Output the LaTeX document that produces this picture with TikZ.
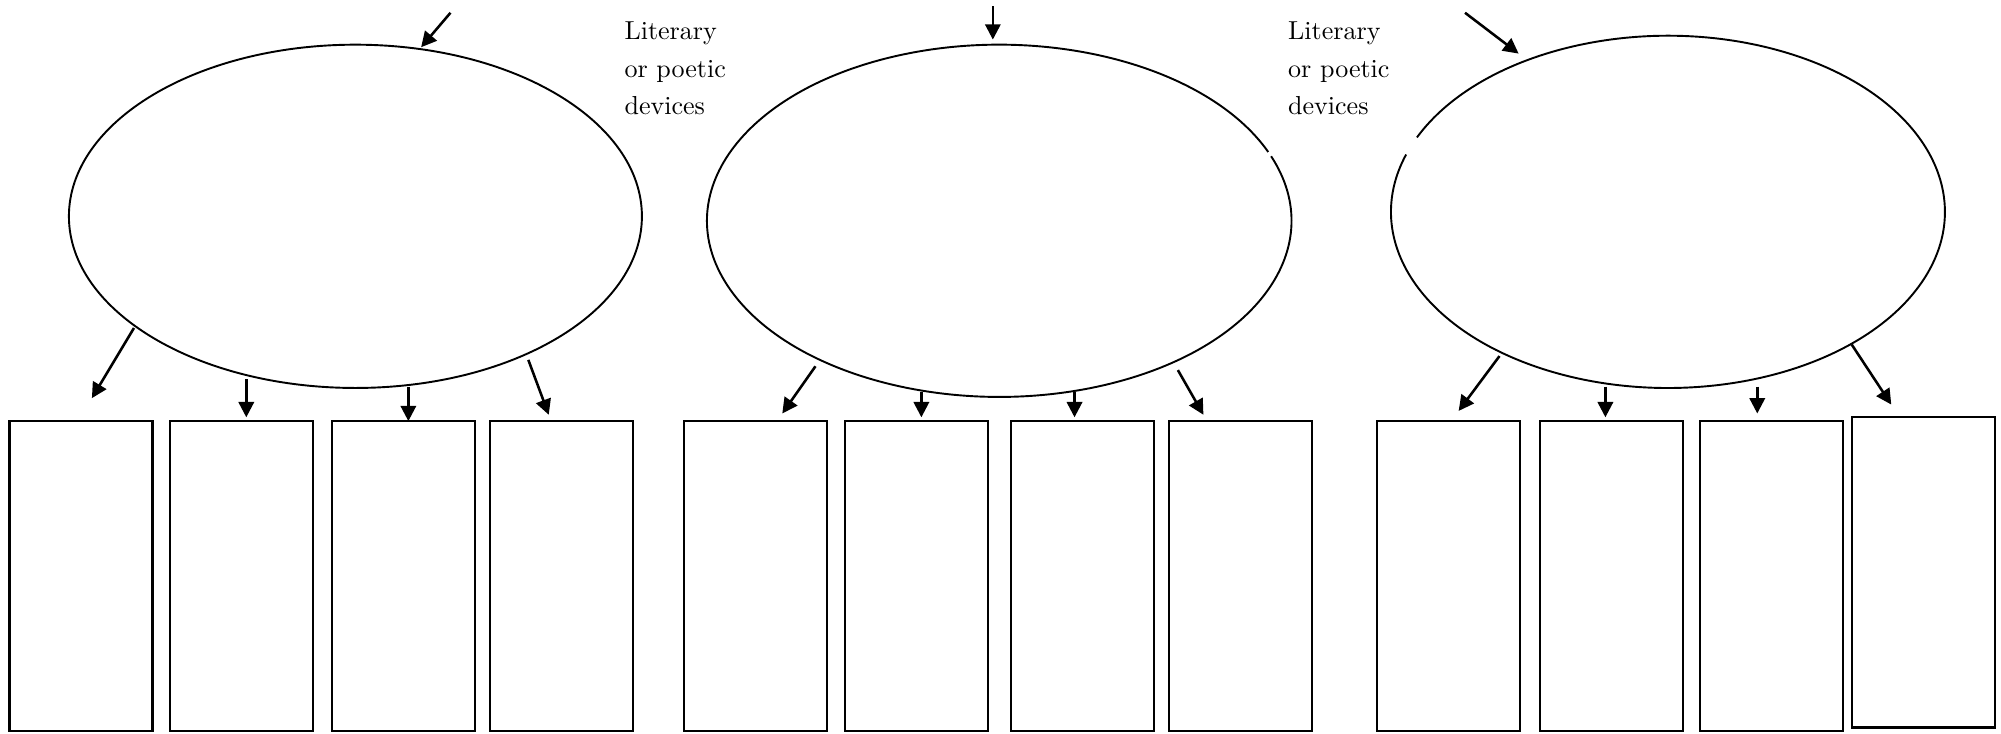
\documentclass[tikz,border=0pt]{standalone}
\usetikzlibrary{arrows.meta,shapes.geometric}
\tikzset{
  box/.style={draw, line width=0.85pt, minimum width=56pt, minimum height=121.5pt, inner sep=0pt},
  oval/.style={ellipse, line width=0.75pt, inner sep=0pt},
  conn/.style={line width=1pt, -{Triangle[length=6pt,width=6pt]}},
  lbl/.style={align=left, inner sep=0pt, anchor=north west, font=\fontsize{10.2}{14.5}\selectfont}
}
\begin{document}
\begin{tikzpicture}[x=0.5pt,y=-0.5pt]
\useasboundingbox (0,0) rectangle (1568,574.4);
% ellipses
\node[oval, draw, minimum width=224.5pt, minimum height=134.5pt] (e1) at (278.5,169.5) {};
\node[oval, minimum width=229pt, minimum height=138pt] (e2) at (783,173) {};
\node[oval, minimum width=217pt, minimum height=138pt] (e3) at (1307,166) {};
\draw[line width=0.75pt] (e2.center) ++(-21.5:229 and 138) arc[start angle=-21.5, end angle=337, x radius=229, y radius=138];
\draw[line width=0.75pt] (e3.center) ++(205:217 and 138) arc[start angle=205, end angle=559, x radius=217, y radius=138];
% labels
\node[lbl] (t1) at (489,17) {Literary\\or poetic\\devices};
\node[lbl] (t2) at (1009,17) {Literary\\or poetic\\devices};
% boxes
\node[box] (b11) at (63.5,451.5) {};
\node[box] (b12) at (189,451.5) {};
\node[box] (b13) at (316,451.5) {};
\node[box] (b14) at (440,451.5) {};
\node[box] (b21) at (592,451.5) {};
\node[box] (b22) at (718,451.5) {};
\node[box] (b23) at (848,451.5) {};
\node[box] (b24) at (972,451.5) {};
\node[box] (b31) at (1135,451.5) {};
\node[box] (b32) at (1263,451.5) {};
\node[box] (b33) at (1388,451.5) {};
\node[box] (b34) at (1507,448.5) {};
% arrow end points
\coordinate (p1s) at (353,10);   \coordinate (p1e) at (330,37);
\coordinate (a11s) at (105,257); \coordinate (a11e) at (72,312);
\coordinate (a12s) at (193,297); \coordinate (a12e) at (193,327);
\coordinate (a13s) at (320,303); \coordinate (a13e) at (320,330);
\coordinate (a14s) at (414,282); \coordinate (a14e) at (430,325);
\coordinate (p2s) at (778,5);    \coordinate (p2e) at (778,31);
\coordinate (a21s) at (639,287); \coordinate (a21e) at (613,324);
\coordinate (a22s) at (722,307); \coordinate (a22e) at (722,327);
\coordinate (a23s) at (842,307); \coordinate (a23e) at (842,327);
\coordinate (a24s) at (923,290); \coordinate (a24e) at (943,325);
\coordinate (p3s) at (1148,10);  \coordinate (p3e) at (1190,42);
\coordinate (a31s) at (1175,279); \coordinate (a31e) at (1143,322);
\coordinate (a32s) at (1258,303); \coordinate (a32e) at (1258,327);
\coordinate (a33s) at (1377,303); \coordinate (a33e) at (1377,324);
\coordinate (a34s) at (1451,270); \coordinate (a34e) at (1482,317);
\foreach \a in {p1,a11,a12,a13,a14,p2,a21,a22,a23,a24,p3,a31,a32,a33,a34}
  \draw[conn] (\a s) -- (\a e);
\end{tikzpicture}
\end{document}
